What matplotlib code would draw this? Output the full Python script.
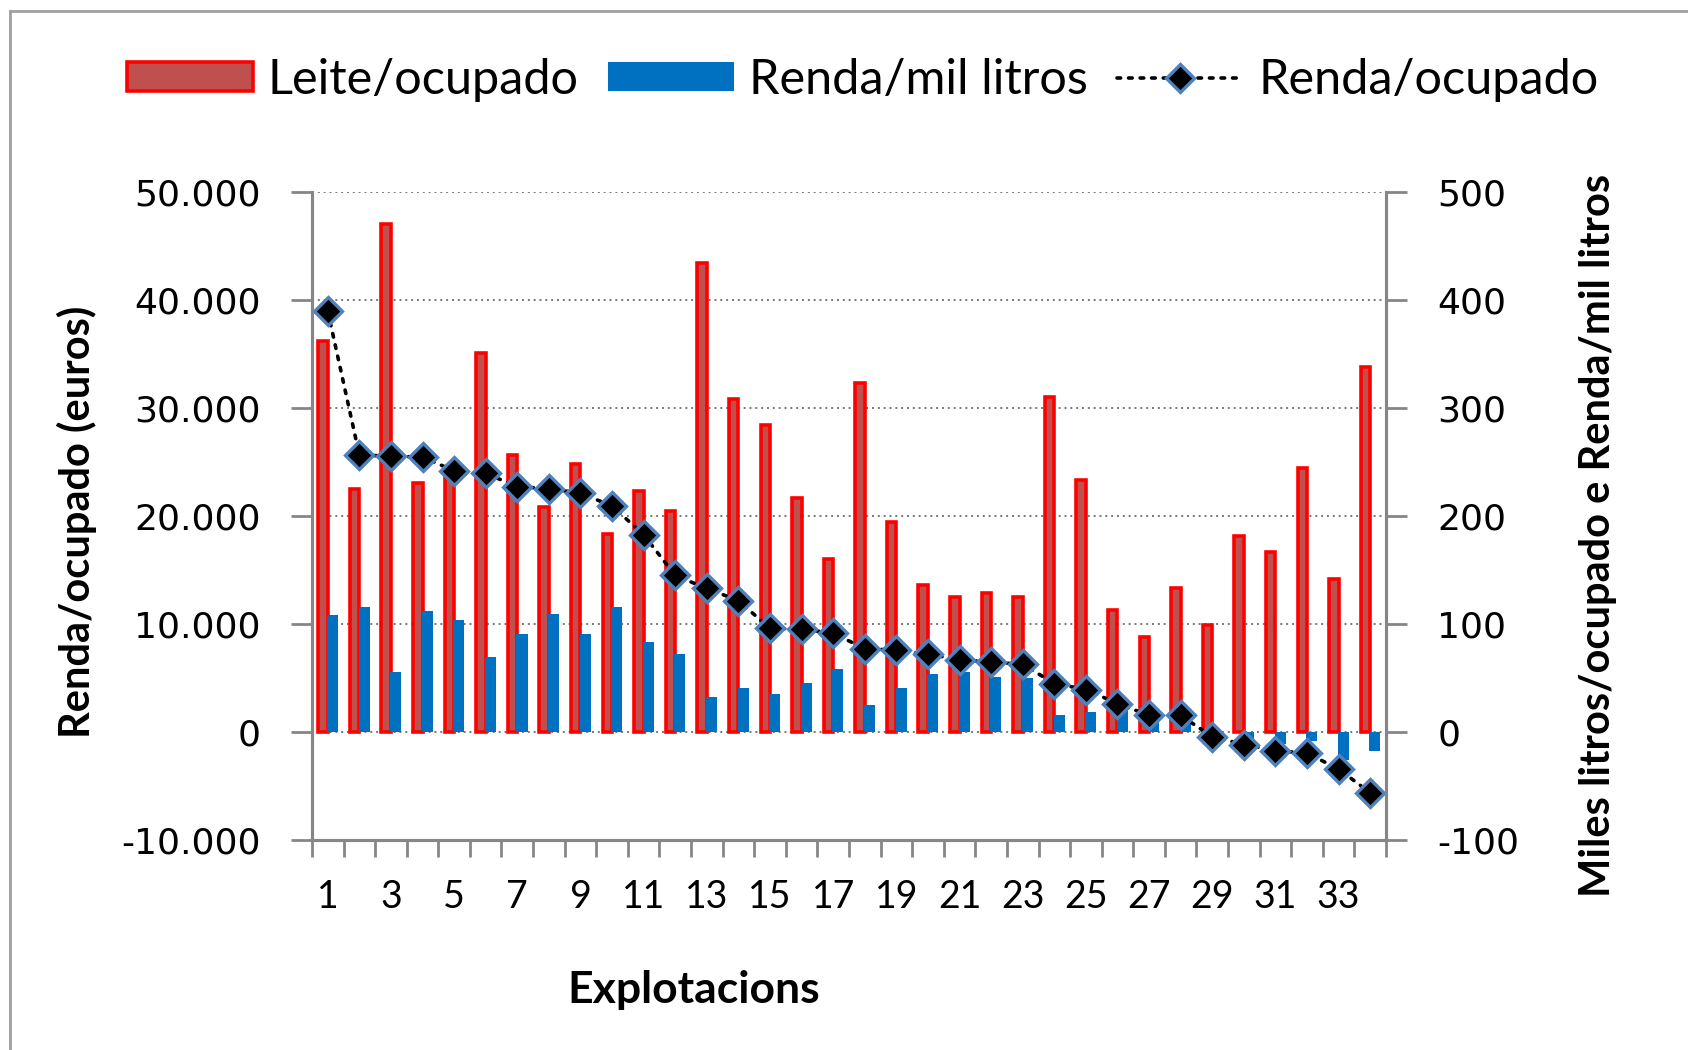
import matplotlib
matplotlib.use('Agg')
import matplotlib.pyplot as plt
from matplotlib.lines import Line2D
from matplotlib.ticker import FuncFormatter
import numpy as np

# explotacions 1..34
explotacions = list(range(1, 35))

# miles litros / ocupado (right axis)
leite_ocupado = [362, 225, 470, 230, 236, 351, 256, 208, 248, 183,
                 223, 204, 434, 308, 284, 216, 160, 323, 194, 136,
                 125, 128, 125, 310, 233, 113, 88, 133, 99, 181,
                 166, 244, 141, 338]

# renda / mil litros (right axis)
renda_mil_litros = [108, 115, 55, 112, 103, 69, 90, 109, 90, 115,
                    83, 72, 32, 40, 35, 45, 58, 25, 40, 53,
                    55, 51, 50, 15, 18, 21, 12, 10, -7, -8,
                    -11, -9, -26, -18]

# renda / ocupado in euros (left axis)
renda_ocupado = [38950, 25630, 25490, 25430, 24150, 23920, 22680, 22510, 22070, 20900,
                 18230, 14460, 13260, 12130, 9560, 9500, 9120, 7680, 7540, 7160,
                 6680, 6440, 6230, 4460, 3900, 2600, 1510, 1500, -470, -1190,
                 -1750, -2000, -3450, -5670]

left_ticks = [-10000, 0, 10000, 20000, 30000, 40000, 50000]
right_ticks = [-100, 0, 100, 200, 300, 400, 500]

GRAY = '#868686'
TXT_FONT = ['Lato', 'DejaVu Sans']


def fmt(v, p):
    # thousands with a period, plain hyphen for negatives
    return f'{v:,.0f}'.replace(',', '.')


fig = plt.figure(figsize=(16.88, 10.5), dpi=100)
ax = fig.add_axes([0.1848, 0.2003, 0.8211 - 0.1848, 0.8175 - 0.2003])
ax2 = ax.twinx()

# bars on the right axis, drawn under the line axis
x = np.array(explotacions)
ax2.bar(x - 0.15, leite_ocupado, width=0.30, color='#C0504D',
        edgecolor='#FF0000', linewidth=2.6, label='Leite/ocupado', zorder=2)
ax2.bar(x + 0.15, renda_mil_litros, width=0.35, color='#0070C0',
        linewidth=0, label='Renda/mil litros', zorder=3)
ax2.set_ylim(-100, 500)
ax2.set_yticks(right_ticks)
ax2.yaxis.set_major_formatter(FuncFormatter(fmt))
ax2.grid(axis='y', linestyle=(0, (1, 2)), color='#777777', linewidth=1.4, zorder=0)
ax2.set_axisbelow(True)

# line on the left axis, on top
ax.set_zorder(ax2.get_zorder() + 1)
ax.patch.set_visible(False)
ax.plot(x, renda_ocupado, linestyle=(0, (1, 2.2)), color='black', linewidth=2.6,
        dash_capstyle='round', marker='D', markersize=14, markerfacecolor='black',
        markeredgecolor='#4F81BD', markeredgewidth=2.4, label='Renda/ocupado')
ax.set_ylim(-10000, 50000)
ax.set_yticks(left_ticks)
ax.yaxis.set_major_formatter(FuncFormatter(fmt))

# x axis: tick marks between categories, labels every other one
ax.set_xlim(0.5, 34.5)
ax.set_xticks(np.arange(0.5, 35, 1))
ax.set_xticklabels([])
ax.set_xticks(explotacions[::2], minor=True)
ax.set_xticklabels([str(e) for e in explotacions[::2]], minor=True,
                   fontsize=27, family=TXT_FONT)
ax.tick_params(axis='x', which='major', length=12, width=2, color=GRAY, direction='out')
ax.tick_params(axis='x', which='minor', length=0, pad=28)

ax.tick_params(axis='y', length=15, width=2, color=GRAY, pad=22, labelsize=26)
ax2.tick_params(axis='y', length=15, width=2, color=GRAY, pad=22, labelsize=26)

for a in (ax, ax2):
    a.spines['top'].set_visible(False)
    for s in ('left', 'right', 'bottom'):
        a.spines[s].set_color(GRAY)
        a.spines[s].set_linewidth(2.2)

ax.set_ylabel('Renda/ocupado (euros)', fontsize=30, fontweight='bold', family=TXT_FONT)
ax.yaxis.set_label_coords(-0.2, 0.49)
ax2.set_ylabel('Miles litros/ocupado e Renda/mil litros', fontsize=30,
               fontweight='bold', family=TXT_FONT)
ax2.yaxis.set_label_coords(1.18, 0.47)
fig.text(694 / 1688, 1 - 990 / 1050, 'Explotacions', fontsize=32, fontweight='bold',
         family=TXT_FONT, ha='center', va='center')

# legend across the top
h2, l2 = ax2.get_legend_handles_labels()
h1, l1 = ax.get_legend_handles_labels()
fig.legend(h2 + h1, l2 + l1, loc='center', bbox_to_anchor=(0.511, 1 - 80 / 1050),
           ncol=3, frameon=False, prop={'family': TXT_FONT, 'size': 35},
           handlelength=2.6, handleheight=0.55, handletextpad=0.3,
           columnspacing=0.6, numpoints=1)

# chart area border (top and left visible)
fig.add_artist(Line2D([10 / 1688, 10 / 1688], [0, 1 - 11 / 1050],
                      transform=fig.transFigure, color='#A0A0A0', linewidth=2))
fig.add_artist(Line2D([10 / 1688, 1], [1 - 11 / 1050, 1 - 11 / 1050],
                      transform=fig.transFigure, color='#A0A0A0', linewidth=2))

fig.savefig('out.png', dpi=100)
